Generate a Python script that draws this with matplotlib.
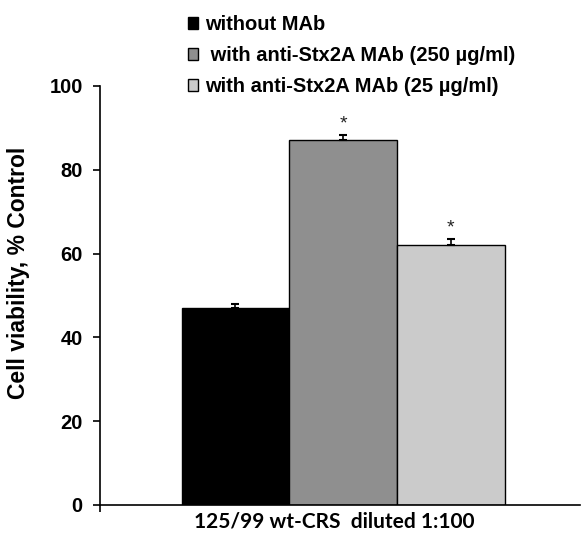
import matplotlib.pyplot as plt
from matplotlib.patches import Patch

# data
groups = ['without MAb', ' with anti-Stx2A MAb (250 µg/ml)', 'with anti-Stx2A MAb (25 µg/ml)']
viability = [47, 87, 62]
err_up = [0.9, 1.2, 1.6]
signif = ['', '*', '*']
colors = ['#000000', '#8f8f8f', '#cbcbcb']
yticks = [0, 20, 40, 60, 80, 100]

plt.rcParams['font.family'] = ['Liberation Sans', 'DejaVu Sans']

fig = plt.figure(figsize=(5.82, 5.35), dpi=100)
ax = fig.add_axes([100 / 582, 30 / 535, 480 / 582, 419 / 535])

x = [0, 1, 2]
ax.bar(x, viability, width=1.0, color=colors, edgecolor='black', linewidth=1.0)
ax.errorbar(x, viability, yerr=[[0, 0, 0], err_up], fmt='none', ecolor='black',
            elinewidth=1.2, capsize=3, capthick=1.5)
for xi, v, e, s in zip(x, viability, err_up, signif):
    if s:
        ax.text(xi, v + e + 0.6, s, ha='center', va='bottom', fontsize=14, color='#222222')

ax.set_ylim(0, 100)
ax.set_xlim(-1.258, 3.2)
ax.set_yticks(yticks)
ax.set_yticklabels([str(t) for t in yticks], fontsize=14.5, fontweight='bold')
ax.tick_params(axis='y', direction='out', length=5, width=1.2, pad=7.5)
ax.set_xticks([-1.258])
ax.set_xticklabels([])
ax.tick_params(axis='x', direction='out', length=5, width=1.2)
for side in ['top', 'right']:
    ax.spines[side].set_visible(False)
for side in ['left', 'bottom']:
    ax.spines[side].set_linewidth(1.2)

fig.text(19 / 582, 1 - 273 / 535, 'Cell viability, % Control', rotation=90,
         ha='center', va='center', fontsize=16.5, fontweight='bold')
fig.text(334 / 582, 1 - 522 / 535, '125/99 wt-CRS  diluted 1:100', ha='center', va='center',
         fontsize=15, fontweight='bold', family=['Lato', 'DejaVu Sans'])

handles = [Patch(facecolor=c, edgecolor='black', linewidth=1.0) for c in colors]
fig.legend(handles, groups, loc='upper left', bbox_to_anchor=(174 / 582, 1 - 1 / 535),
           frameon=False, prop={'weight': 'bold', 'size': 14.5},
           handlelength=0.5, handleheight=0.5, handletextpad=0.35, labelspacing=0.6,
           borderaxespad=0.3)

fig.savefig('out.png', dpi=100)
